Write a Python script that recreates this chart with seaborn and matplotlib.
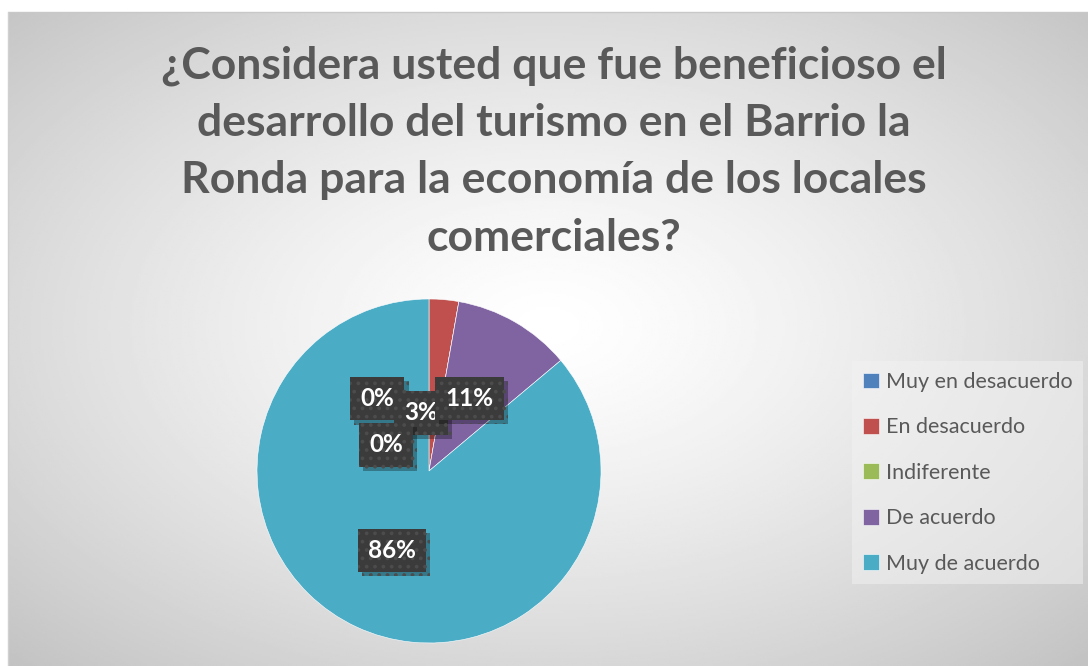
import numpy as np
import matplotlib
matplotlib.use('Agg')
import matplotlib.pyplot as plt
import matplotlib.patheffects as pe
import seaborn as sns

# Datos del gráfico
categorias = ['Muy en desacuerdo', 'En desacuerdo', 'Indiferente', 'De acuerdo', 'Muy de acuerdo']
respuestas = [0, 1, 0, 4, 31]
colores = ['#4f81bd', '#c0504d', '#9bbb59', '#8064a2', '#4bacc6']
titulo = ('¿Considera usted que fue beneficioso el\n'
          'desarrollo del turismo en el Barrio la\n'
          'Ronda para la economía de los locales\n'
          'comerciales?')

sns.set_theme(style='white')
plt.rcParams['font.family'] = ['Lato', 'DejaVu Sans']
plt.rcParams['hatch.linewidth'] = 1.5
paleta = sns.color_palette(colores)

W, H = 1088, 666
fig = plt.figure(figsize=(W / 100, H / 100), dpi=100)
fig.patch.set_facecolor('white')

# Fondo con degradado radial (estilo Excel)
fondo = fig.add_axes([8 / W, 0, 1 - 8 / W, 1 - 12 / H])
yy, xx = np.mgrid[0:1:300j, 0:1:500j]
dist = np.sqrt(((xx - 0.5) / 0.75) ** 2 + ((yy - 0.48) / 0.75) ** 2)
gris = 1 - 0.25 * np.clip(dist, 0, 1) ** 1.3
fondo.imshow(gris, cmap='gray', vmin=0, vmax=1, aspect='auto', extent=[0, 1, 0, 1])
fondo.set_axis_off()
fig.add_artist(plt.Line2D([8 / W, 1], [1 - 12 / H, 1 - 12 / H], color='#c8c8c8', lw=1))
fig.add_artist(plt.Line2D([8 / W, 8 / W], [0, 1 - 12 / H], color='#d0d0d0', lw=1))

# Gráfico circular
cx, cy, r = 429, 471, 172
ax = fig.add_axes([(cx - r) / W, (H - cy - r) / H, 2 * r / W, 2 * r / H])
wedges, textos, porcentajes = ax.pie(
    respuestas, colors=paleta, startangle=90, counterclock=False,
    autopct=lambda p: f'{p:.0f}%', pctdistance=0.51,
    wedgeprops=dict(edgecolor='white', linewidth=0.4))
ax.set_xlim(-1, 1)
ax.set_ylim(-1, 1)
ax.set_aspect('equal')
ax.set_axis_off()

# Ajustar etiquetas que se superponen
ajustes = [(-0.30, -0.09), (-0.09, -0.17), (-0.34, -0.35), (-0.02, -0.02), (0.0, 0.0)]
for t, (dx, dy) in zip(porcentajes, ajustes):
    x, y = t.get_position()
    t.set_position((x + dx, y + dy))
    t.set_color('white')
    t.set_fontsize(17.5)
    t.set_fontweight('bold')
    t.set_bbox(dict(boxstyle='square,pad=0.42', facecolor='#3b3b3b',
                    edgecolor='#4c4c4c', linewidth=0, hatch='..'))
    t.get_bbox_patch().set_path_effects([
        pe.SimplePatchShadow(offset=(3, -3), shadow_rgbFace='black', alpha=0.3),
        pe.Normal()])

# Título
fig.text(554 / W, 1 - 45 / H, titulo, ha='center', va='top', fontsize=32,
         fontweight='bold', color='#595959', linespacing=1.53)

# Leyenda
leg = fig.legend(wedges, categorias, loc='upper left',
                 bbox_to_anchor=(848 / W, 1 - 357 / H), frameon=True,
                 fontsize=15.5, labelcolor='#595959', handlelength=0.75,
                 handleheight=0.75, handletextpad=0.3, labelspacing=1.18,
                 borderpad=0.5, borderaxespad=0.2, fancybox=False)
leg.get_frame().set_facecolor('#f2f2f2')
leg.get_frame().set_alpha(0.5)
leg.get_frame().set_edgecolor('none')

fig.savefig('out.png', dpi=100)
